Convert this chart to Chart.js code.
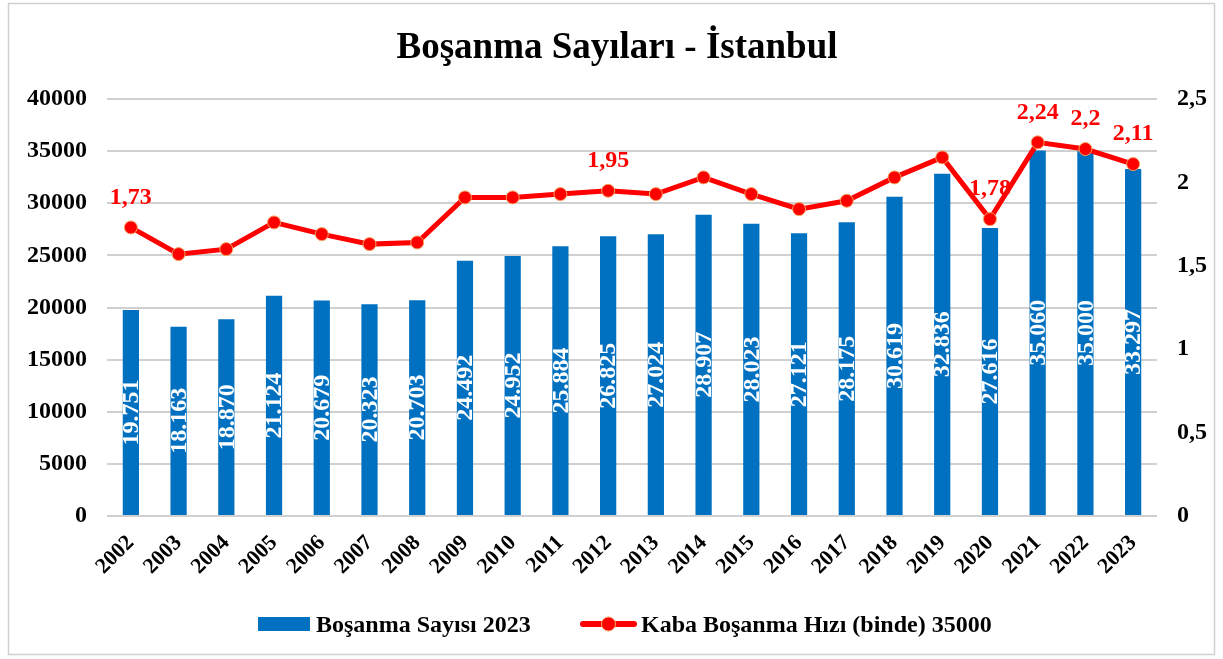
<!DOCTYPE html>
<html>
<head>
<meta charset="utf-8">
<title>Boşanma Sayıları - İstanbul</title>
<script src="https://cdn.jsdelivr.net/npm/chart.js@4.4.1/dist/chart.umd.min.js"></script>
<style>
  html, body { margin: 0; padding: 0; background: #fff; }
  #wrap { width: 1223px; height: 659px; }
</style>
</head>
<body>
<div id="wrap"><canvas id="chart" width="1223" height="659"></canvas></div>
<script>
// --- data ---
const years = ['2002', '2003', '2004', '2005', '2006', '2007', '2008', '2009', '2010', '2011', '2012',
               '2013', '2014', '2015', '2016', '2017', '2018', '2019', '2020', '2021', '2022', '2023'];
const divorceCounts = [19751, 18163, 18870, 21124, 20679, 20323, 20703, 24492, 24952, 25884, 26825,
                       27024, 28907, 28023, 27121, 28175, 30619, 32836, 27616, 35060, 35000, 33297];
const crudeRate = [1.73, 1.57, 1.60, 1.76, 1.69, 1.63, 1.64, 1.91, 1.91, 1.93, 1.95,
                   1.93, 2.03, 1.93, 1.84, 1.89, 2.03, 2.15, 1.78, 2.24, 2.20, 2.11];
const rateLabelYears = ['2002', '2012', '2020', '2021', '2022', '2023'];

const countLabel = 'Boşanma Sayısı 2023';
const rateLabel = 'Kaba Boşanma Hızı (binde) 35000';
const titleText = 'Boşanma Sayıları - İstanbul';

const SERIF = "'Liberation Serif', 'Times New Roman', serif";
const BLUE = '#0070c0';
const RED = '#ff0000';
const GRID = '#d0d0d0';

// plot box measured on the reference
const AREA = { left: 107, right: 1157, top: 99, bottom: 516 };
const X_AXIS_H = 78;

const fmtCount = v => String(v).replace(/\B(?=(\d{3})+(?!\d))/g, '.');
const fmtRate = v => String(+v.toFixed(2)).replace('.', ',');

const frame = {
  id: 'frame',
  beforeDraw(chart) {
    const ctx = chart.ctx;
    ctx.save();
    ctx.fillStyle = '#fff';
    ctx.fillRect(0, 0, chart.width, chart.height);
    ctx.strokeStyle = GRID; ctx.lineWidth = 1.5;
    ctx.strokeRect(8.5, 3.5, 1206, 651);
    ctx.restore();
  }
};

// title and legend drawn by hand to sit where they do in the reference
const titleAndLegend = {
  id: 'titleAndLegend',
  afterDraw(chart) {
    const ctx = chart.ctx;
    ctx.save();
    ctx.fillStyle = '#000';
    ctx.textBaseline = 'alphabetic';

    ctx.font = 'bold 37px ' + SERIF;
    ctx.textAlign = 'center';
    ctx.fillText(titleText, 617, 58);

    const ly = 624;
    // bar swatch
    ctx.fillStyle = BLUE;
    ctx.fillRect(258, ly - 7, 52, 14);
    // line swatch
    ctx.strokeStyle = RED; ctx.lineWidth = 6; ctx.lineCap = 'round';
    ctx.beginPath(); ctx.moveTo(583, ly); ctx.lineTo(634, ly); ctx.stroke();
    ctx.fillStyle = RED; ctx.strokeStyle = '#f4a460'; ctx.lineWidth = 1;
    ctx.beginPath(); ctx.arc(608.5, ly, 7, 0, Math.PI * 2); ctx.fill(); ctx.stroke();

    ctx.fillStyle = '#000';
    ctx.font = 'bold 24px ' + SERIF;
    ctx.textAlign = 'left';
    ctx.fillText(countLabel, 316, ly + 8);
    ctx.fillText(rateLabel, 641, ly + 8);
    ctx.restore();
  }
};

const valueLabels = {
  id: 'valueLabels',
  afterDatasetsDraw(chart) {
    const ctx = chart.ctx;
    ctx.save();
    ctx.font = 'bold 24px ' + SERIF;
    ctx.textAlign = 'center';
    ctx.textBaseline = 'middle';

    // counts: white, rotated, centred in each bar
    ctx.fillStyle = '#fff';
    chart.getDatasetMeta(0).data.forEach((bar, i) => {
      ctx.save();
      ctx.translate(bar.x, (bar.y + bar.base) / 2);
      ctx.rotate(-Math.PI / 2);
      ctx.fillText(fmtCount(divorceCounts[i]), 0, 1);
      ctx.restore();
    });

    // selected rates above the line
    ctx.fillStyle = RED;
    const pts = chart.getDatasetMeta(1).data;
    rateLabelYears.forEach(y => {
      const i = years.indexOf(y);
      ctx.fillText(fmtRate(crudeRate[i]), pts[i].x, pts[i].y - 30);
    });
    ctx.restore();
  }
};

new Chart(document.getElementById('chart'), {
  data: {
    labels: years,
    datasets: [
      {
        type: 'bar',
        label: countLabel,
        data: divorceCounts,
        yAxisID: 'y',
        backgroundColor: BLUE,
        categoryPercentage: 1,
        barPercentage: 0.34,
        order: 1
      },
      {
        type: 'line',
        label: rateLabel,
        data: crudeRate,
        yAxisID: 'y1',
        borderColor: RED,
        borderWidth: 5,
        pointRadius: 6.5,
        pointBackgroundColor: RED,
        pointBorderColor: '#f4a460',
        pointBorderWidth: 1,
        tension: 0,
        order: 0
      }
    ]
  },
  options: {
    responsive: false,
    animation: false,
    layout: {
      padding: { left: 0, right: 0, top: AREA.top, bottom: 659 - AREA.bottom - X_AXIS_H }
    },
    plugins: {
      tooltip: { enabled: false },
      title: { display: false },
      legend: { display: false }
    },
    scales: {
      x: {
        grid: { display: false },
        border: { display: false },
        afterFit: s => { s.height = X_AXIS_H; },
        ticks: {
          color: '#000',
          font: { family: SERIF, size: 22, weight: 'bold' },
          minRotation: 45,
          maxRotation: 45,
          padding: 6
        }
      },
      y: {
        position: 'left',
        min: 0,
        max: 40000,
        afterFit: s => { s.width = AREA.left; },
        grid: { color: GRID, lineWidth: 2, drawTicks: false },
        border: { display: false },
        ticks: {
          stepSize: 5000,
          padding: 20,
          color: '#000',
          font: { family: SERIF, size: 24, weight: 'bold' },
          callback: v => String(v)
        }
      },
      y1: {
        position: 'right',
        min: 0,
        max: 2.5,
        afterFit: s => { s.width = 1223 - AREA.right; },
        grid: { display: false, drawTicks: false },
        border: { display: false },
        ticks: {
          stepSize: 0.5,
          padding: 20,
          color: '#000',
          font: { family: SERIF, size: 24, weight: 'bold' },
          callback: v => String(v).replace('.', ',')
        }
      }
    }
  },
  plugins: [frame, valueLabels, titleAndLegend]
});
</script>
</body>
</html>
